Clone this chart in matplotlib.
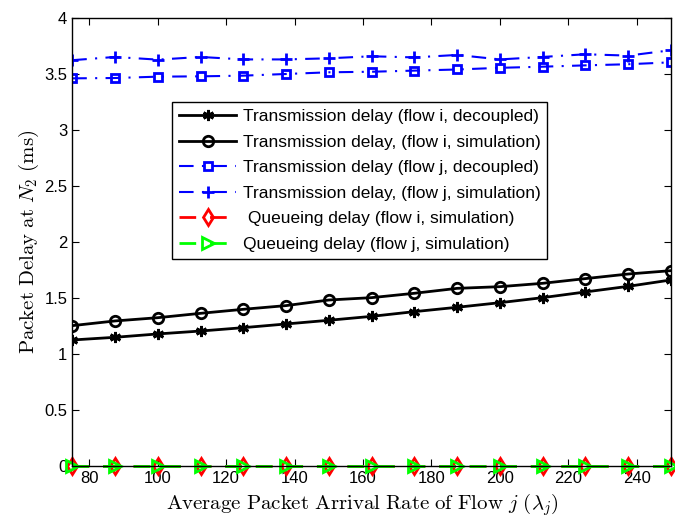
import numpy as np
import matplotlib
matplotlib.use('Agg')
matplotlib.rc('mathtext', fontset='cm')
matplotlib.rc('font', family=['Liberation Sans', 'DejaVu Sans'])
import matplotlib.pyplot as plt

# arrival rate of flow j
rate = [75, 87.5, 100, 112.5, 125, 137.5, 150, 162.5, 175, 187.5, 200, 212.5, 225, 237.5, 250]

# transmission delay, flow i
tx_i_dec = [1.125, 1.149, 1.179, 1.205, 1.235, 1.268, 1.301, 1.336, 1.378, 1.417, 1.458, 1.503, 1.554, 1.604, 1.661]
tx_i_sim = [1.253, 1.295, 1.324, 1.363, 1.399, 1.432, 1.482, 1.503, 1.542, 1.586, 1.601, 1.631, 1.673, 1.714, 1.744]

# transmission delay, flow j
tx_j_dec = [3.461, 3.464, 3.476, 3.479, 3.485, 3.500, 3.515, 3.520, 3.530, 3.540, 3.555, 3.565, 3.577, 3.587, 3.604]
tx_j_sim = [3.623, 3.652, 3.628, 3.652, 3.630, 3.630, 3.640, 3.658, 3.648, 3.670, 3.630, 3.652, 3.676, 3.664, 3.712]

# queueing delay (simulation)
q_i = [0.0] * 15
q_j = [0.0] * 15

fig = plt.figure(figsize=(6.75, 5.18), dpi=100)
ax = fig.add_axes([0.107, 0.1004, 0.887, 0.8649])

ast = (6, 2, 0)  # asterisk, like matlab '*'
ax.plot(rate, tx_i_dec, 'k-', marker=ast, ms=8, mew=2, lw=2, label='Transmission delay (flow i, decoupled)')
ax.plot(rate, tx_i_sim, 'k-', marker='o', ms=7.5, mfc='none', mew=2, lw=2, label='Transmission delay, (flow i, simulation)')
ax.plot(rate, tx_j_dec, color='b', ls=(0, (7, 4, 1, 4)), marker='s', ms=6, mfc='none', mew=2, lw=1.5, label='Transmission delay (flow j, decoupled)')
ax.plot(rate, tx_j_sim, color='b', ls=(0, (7, 4, 1, 4)), marker='+', ms=8, mew=2, lw=1.5, label='Transmission delay, (flow j, simulation)')
ax.plot(rate, q_i, color='r', ls=(0, (6, 5)), marker='d', ms=8, mfc='none', mew=2, lw=2, clip_on=False, label=' Queueing delay (flow i, simulation)')
ax.plot(rate, q_j, color='#00ff00', ls=(0, (6, 5)), marker='>', ms=8, mfc='none', mew=2, lw=2, clip_on=False, label='Queueing delay (flow j, simulation)')

ax.set_xlim(75, 250)
ax.set_ylim(0, 4)
ax.set_xticks(np.arange(80, 241, 20))
ax.set_yticks(np.arange(0, 4.01, 0.5))
ax.set_yticklabels(['0', '0.5', '1', '1.5', '2', '2.5', '3', '3.5', '4'])
ax.tick_params(direction='in', top=True, right=True, labelsize=12, length=5)
for s in ax.spines.values():
    s.set_linewidth(1)

ax.set_xlabel(r'$\mathrm{Average\ Packet\ Arrival\ Rate\ of\ Flow}\ j\ (\lambda_j)$', fontsize=15)
ax.set_ylabel(r'$\mathrm{Packet\ Delay\ at}\ N_2\ \mathrm{(ms)}$', fontsize=15, labelpad=2)
ax.xaxis.set_label_coords(0.485, -0.057, transform=ax.transAxes)

leg = ax.legend(loc='upper left', bbox_to_anchor=(0.167, 0.8125), borderaxespad=0,
                fontsize=12.5, handlelength=3.3, fancybox=False, framealpha=1,
                edgecolor='k', labelspacing=0.6, borderpad=0.4, handletextpad=0.35)
leg.get_frame().set_linewidth(1)

fig.savefig('out.png', dpi=100)
